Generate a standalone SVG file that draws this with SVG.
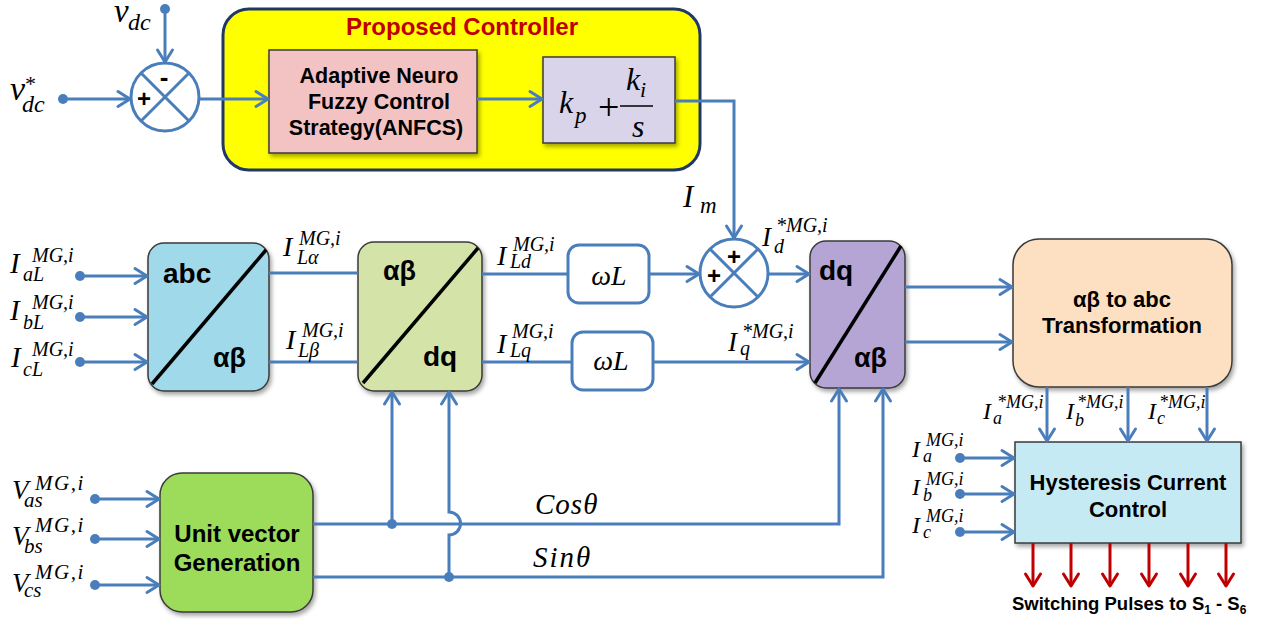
<svg xmlns="http://www.w3.org/2000/svg" width="1266" height="619" viewBox="0 0 1266 619">
<defs>
<style>
.ln{fill:none;stroke:#4a7ebb;stroke-width:3}
.ar{marker-end:url(#a)}
.rd{fill:none;stroke:#c00000;stroke-width:3;marker-end:url(#r)}
.dot{fill:#4a7ebb}
.bx{stroke:#3a3a3a;stroke-width:1.5;filter:url(#sh)}
.dg{stroke:#000;stroke-width:3.5}
.b{font-family:"Liberation Sans",Arial,sans-serif;font-weight:bold;fill:#000}
.m{font-family:"Liberation Serif","Times New Roman",serif;font-style:italic;fill:#000}
.sum{fill:#fff;stroke:#4a7ebb;stroke-width:3}
.wl{fill:#fff;stroke:#4a7ebb;stroke-width:3}
</style>
<marker id="a" markerUnits="userSpaceOnUse" markerWidth="20" markerHeight="20" viewBox="0 0 20 20" refX="15" refY="10" orient="auto">
<path d="M3,2.5 L15,10 L3,17.5" fill="none" stroke="#4a7ebb" stroke-width="3" stroke-linejoin="round" stroke-linecap="round"/>
</marker>
<marker id="r" markerUnits="userSpaceOnUse" markerWidth="20" markerHeight="20" viewBox="0 0 20 20" refX="15" refY="10" orient="auto">
<path d="M3,2.5 L15,10 L3,17.5" fill="none" stroke="#c00000" stroke-width="3" stroke-linejoin="round" stroke-linecap="round"/>
</marker>
<filter id="sh" x="-10%" y="-10%" width="125%" height="125%">
<feDropShadow dx="2" dy="3" stdDeviation="2" flood-color="#000" flood-opacity="0.35"/>
</filter>
</defs>

<!-- Proposed controller container -->
<g id="proposed">
<rect x="223" y="9" width="477" height="161" rx="26" fill="#ffff00" stroke="#1f3864" stroke-width="3"/>
<text class="b" x="462" y="35" font-size="24" text-anchor="middle" style="fill:#c00000">Proposed Controller</text>
</g>

<g id="anfcs">
<rect class="bx" x="269" y="50" width="208" height="103" fill="#f3c3c3"/>
<text class="b" font-size="21.5" text-anchor="middle"><tspan x="379" y="83">Adaptive Neuro</tspan><tspan x="379" y="109">Fuzzy Control</tspan><tspan x="376" y="135">Strategy(ANFCS)</tspan></text>
</g>

<g id="pi">
<rect class="bx" x="543" y="57" width="132" height="86" fill="#dad4ea"/>
<text class="m" x="559" y="113" font-size="32">k</text>
<text class="m" x="575" y="123" font-size="23">p</text>
<text x="598" y="120" font-size="38" font-family="'Liberation Serif',serif">+</text>
<line x1="620" y1="106" x2="653" y2="106" stroke="#000" stroke-width="1.5"/>
<text class="m" x="626" y="90" font-size="32">k</text>
<text class="m" x="640" y="97" font-size="22">i</text>
<text class="m" x="632" y="137" font-size="32">s</text>
</g>

<g id="sum1">
<circle class="sum" cx="165" cy="97" r="34"/>
<line class="ln" x1="141" y1="73" x2="189" y2="121"/>
<line class="ln" x1="189" y1="73" x2="141" y2="121"/>
<text class="b" x="164" y="86" font-size="26" text-anchor="middle">-</text>
<text class="b" x="144" y="107" font-size="24" text-anchor="middle">+</text>
</g>

<g id="sum2">
<circle class="sum" cx="734" cy="273" r="34"/>
<line class="ln" x1="710" y1="249" x2="758" y2="297"/>
<line class="ln" x1="758" y1="249" x2="710" y2="297"/>
<text class="b" x="734" y="265" font-size="24" text-anchor="middle">+</text>
<text class="b" x="714" y="284" font-size="24" text-anchor="middle">+</text>
</g>

<g id="abc-ab">
<rect class="bx" x="148" y="243" width="121" height="148" rx="16" fill="#a0d9ea"/>
<line class="dg" x1="152" y1="384" x2="266" y2="250"/>
<text class="b" x="163" y="283" font-size="28">abc</text>
<text class="b" x="213" y="367" font-size="27">αβ</text>
</g>

<g id="ab-dq">
<rect class="bx" x="358" y="242" width="124" height="149" rx="16" fill="#d4e3a8"/>
<line class="dg" x1="363" y1="383" x2="478" y2="248"/>
<text class="b" x="383" y="280" font-size="27">αβ</text>
<text class="b" x="423" y="366" font-size="28">dq</text>
</g>

<g id="wl1">
<rect class="wl" x="568" y="245" width="81" height="58" rx="11"/>
<text class="m" x="609" y="285" font-size="28" text-anchor="middle">ωL</text>
</g>
<g id="wl2">
<rect class="wl" x="572" y="332" width="81" height="58" rx="11"/>
<text class="m" x="611" y="370" font-size="28" text-anchor="middle">ωL</text>
</g>

<g id="dq-ab">
<rect class="bx" x="810" y="241" width="95" height="147" rx="16" fill="#b4a5d5"/>
<line class="dg" x1="815" y1="383" x2="901" y2="246"/>
<text class="b" x="819" y="280" font-size="28">dq</text>
<text class="b" x="854" y="367" font-size="27">αβ</text>
</g>

<g id="ab-abc">
<rect class="bx" x="1013" y="239" width="219" height="148" rx="26" fill="#fde0c1"/>
<text class="b" font-size="22" text-anchor="middle"><tspan x="1122" y="307">αβ to abc</tspan><tspan x="1122" y="333">Transformation</tspan></text>
</g>

<g id="hcc">
<rect class="bx" x="1015" y="442" width="226" height="101" fill="#c6eaf4"/>
<text class="b" font-size="22" text-anchor="middle"><tspan x="1128" y="490">Hysteresis Current</tspan><tspan x="1128" y="517">Control</tspan></text>
</g>

<g id="uvg">
<rect class="bx" x="160" y="473" width="153" height="139" rx="22" fill="#9cdc5a"/>
<text class="b" font-size="24" text-anchor="middle"><tspan x="237" y="542">Unit vector</tspan><tspan x="237" y="571">Generation</tspan></text>
</g>

<!-- connectors -->
<g id="connectors">
<path class="ln ar" d="M165,9 V62"/>
<path class="ln ar" d="M63,99 H130"/>
<path class="ln ar" d="M199,99 H268"/>
<path class="ln ar" d="M477,99 H542"/>
<path class="ln ar" d="M675,101 H734 V238"/>
<path class="ln ar" d="M80,276 H147"/>
<path class="ln ar" d="M80,317 H147"/>
<path class="ln ar" d="M80,362 H147"/>
<path class="ln" d="M269,273 H358"/>
<path class="ln" d="M269,362 H358"/>
<path class="ln" d="M482,274 H568"/>
<path class="ln" d="M482,362 H572"/>
<path class="ln ar" d="M649,274 H699"/>
<path class="ln ar" d="M768,274 H809"/>
<path class="ln ar" d="M653,362 H809"/>
<path class="ln ar" d="M905,287 H1012"/>
<path class="ln ar" d="M905,342 H1012"/>
<path class="ln ar" d="M1047,387 V441"/>
<path class="ln ar" d="M1128,387 V441"/>
<path class="ln ar" d="M1207,387 V441"/>
<path class="ln ar" d="M960,458 H1014"/>
<path class="ln ar" d="M960,494 H1014"/>
<path class="ln ar" d="M960,532 H1014"/>
<path class="ln ar" d="M95,499 H159"/>
<path class="ln ar" d="M95,539 H159"/>
<path class="ln ar" d="M95,585 H159"/>
<path class="ln ar" d="M313,524 H839 V389"/>
<path class="ln ar" d="M313,577 H883 V389"/>
<path class="ln ar" d="M392,524 V392"/>
<path class="ln ar" d="M449,577 V535 A11.5,11.5 0 0 0 449,512 V392"/>
<circle class="dot" cx="165" cy="9" r="5"/>
<circle class="dot" cx="63" cy="99" r="5"/>
<circle class="dot" cx="80" cy="276" r="5"/>
<circle class="dot" cx="80" cy="317" r="5"/>
<circle class="dot" cx="80" cy="362" r="5"/>
<circle class="dot" cx="95" cy="499" r="5"/>
<circle class="dot" cx="95" cy="539" r="5"/>
<circle class="dot" cx="95" cy="585" r="5"/>
<circle class="dot" cx="960" cy="458" r="5"/>
<circle class="dot" cx="960" cy="494" r="5"/>
<circle class="dot" cx="960" cy="532" r="5"/>
<circle class="dot" cx="392" cy="524" r="5"/>
<circle class="dot" cx="449" cy="577" r="5"/>
<path class="rd" d="M1033,543 V586"/>
<path class="rd" d="M1071,543 V586"/>
<path class="rd" d="M1110,543 V586"/>
<path class="rd" d="M1149,543 V586"/>
<path class="rd" d="M1188,543 V586"/>
<path class="rd" d="M1226,543 V586"/>
</g>

<!-- labels -->
<g id="labels">
<text class="m" x="114" y="22" font-size="33">v</text>
<text class="m" x="128" y="30" font-size="24">dc</text>
<text class="m" x="10" y="100" font-size="34">v</text>
<text class="m" x="24" y="91" font-size="22">*</text>
<text class="m" x="22" y="112" font-size="24">dc</text>

<text class="m" x="10" y="273" font-size="29">I</text><text class="m" x="32" y="262" font-size="20">MG,i</text><text class="m" x="23" y="281" font-size="20">aL</text>
<text class="m" x="10" y="320" font-size="29">I</text><text class="m" x="32" y="309" font-size="20">MG,i</text><text class="m" x="23" y="329" font-size="20">bL</text>
<text class="m" x="11" y="367" font-size="29">I</text><text class="m" x="32" y="356" font-size="20">MG,i</text><text class="m" x="23" y="376" font-size="20">cL</text>

<text class="m" x="283" y="256" font-size="28">I</text><text class="m" x="299" y="245" font-size="20">MG,i</text><text class="m" x="297" y="264" font-size="20">Lα</text>
<text class="m" x="286" y="349" font-size="28">I</text><text class="m" x="302" y="337" font-size="20">MG,i</text><text class="m" x="298" y="357" font-size="20">Lβ</text>

<text class="m" x="497" y="265" font-size="28">I</text><text class="m" x="513" y="251" font-size="20">MG,i</text><text class="m" x="510" y="268" font-size="20">Ld</text>
<text class="m" x="497" y="353" font-size="28">I</text><text class="m" x="512" y="338" font-size="20">MG,i</text><text class="m" x="510" y="357" font-size="20">Lq</text>

<text class="m" x="683" y="207" font-size="31">I</text><text class="m" x="700" y="213" font-size="23">m</text>

<text class="m" x="762" y="246" font-size="27">I</text><text class="m" x="776" y="232" font-size="20">*MG,i</text><text class="m" x="774" y="253" font-size="20">d</text>
<text class="m" x="728" y="351" font-size="27">I</text><text class="m" x="742" y="338" font-size="20">*MG,i</text><text class="m" x="740" y="355" font-size="20">q</text>

<text class="m" x="983" y="419" font-size="24">I</text><text class="m" x="997" y="408" font-size="18">*MG,i</text><text class="m" x="993" y="424" font-size="18">a</text>
<text class="m" x="1066" y="419" font-size="24">I</text><text class="m" x="1077" y="408" font-size="18">*MG,i</text><text class="m" x="1075" y="426" font-size="18">b</text>
<text class="m" x="1148" y="419" font-size="24">I</text><text class="m" x="1159" y="408" font-size="18">*MG,i</text><text class="m" x="1157" y="424" font-size="18">c</text>

<text class="m" x="912" y="457" font-size="24">I</text><text class="m" x="926" y="446" font-size="18">MG,i</text><text class="m" x="923" y="462" font-size="18">a</text>
<text class="m" x="912" y="495" font-size="24">I</text><text class="m" x="926" y="485" font-size="18">MG,i</text><text class="m" x="923" y="501" font-size="18">b</text>
<text class="m" x="912" y="533" font-size="24">I</text><text class="m" x="926" y="522" font-size="18">MG,i</text><text class="m" x="923" y="538" font-size="18">c</text>

<text class="m" x="12" y="499" font-size="27">V</text><text class="m" x="35" y="490" font-size="21" letter-spacing="1.5">MG,i</text><text class="m" x="24" y="507" font-size="21">as</text>
<text class="m" x="12" y="545" font-size="27">V</text><text class="m" x="35" y="532" font-size="21" letter-spacing="1.5">MG,i</text><text class="m" x="24" y="553" font-size="21">bs</text>
<text class="m" x="12" y="592" font-size="27">V</text><text class="m" x="35" y="579" font-size="21" letter-spacing="1.5">MG,i</text><text class="m" x="24" y="597" font-size="21">cs</text>

<text class="m" x="535" y="514" font-size="29" letter-spacing="1">Cosθ</text>
<text class="m" x="533" y="567" font-size="29" letter-spacing="2">Sinθ</text>

<text class="b" x="1012" y="610" font-size="18.5">Switching Pulses to S<tspan font-size="12" dy="4">1</tspan><tspan dy="-4"> - S</tspan><tspan font-size="12" dy="4">6</tspan></text>
</g>
</svg>
